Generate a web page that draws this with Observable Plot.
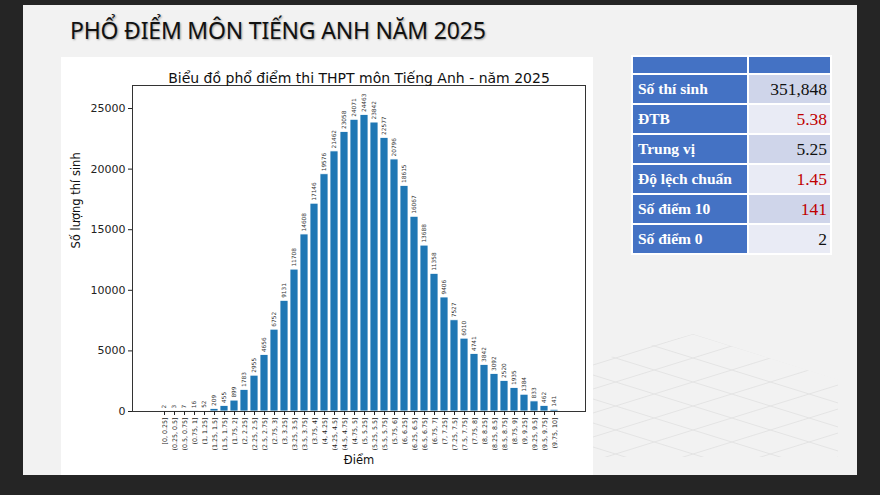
<!DOCTYPE html>
<html>
<head>
<meta charset="utf-8">
<script src="https://cdn.jsdelivr.net/npm/d3@7"></script>
<script src="https://cdn.jsdelivr.net/npm/@observablehq/plot@0.6"></script>
<style>
html, body { margin: 0; padding: 0; width: 880px; height: 495px; overflow: hidden; background: #252525; }
#slide { position: absolute; left: 23px; top: 5px; width: 834px; height: 470px; background: #f2f2f2; }
#deco { position: absolute; left: 0; top: 0; }
#title { position: absolute; left: 70px; top: 14px; font-family: "Noto Sans", sans-serif; font-size: 23px; color: #111;
  letter-spacing: -0.2px; text-shadow: 1px 1px 2px rgba(0,0,0,0.35); white-space: nowrap; }
#chartbox { position: absolute; left: 61px; top: 57px; width: 532px; height: 418px; background: #fff; }
#stats { position: absolute; left: 631px; top: 55px; border-collapse: separate; border-spacing: 2px; background: #fff; }
#stats td { padding: 0 5px; font-family: "Liberation Serif", "Times New Roman", serif; height: 28px; }
#stats td.k { width: 104px; background: #4472c4; color: #fff; font-weight: bold; font-size: 15.5px; }
#stats td.v { width: 73px; text-align: right; font-size: 17.5px; color: #111; padding-right: 3px; }
#stats tr.h td { height: 16px; background: #4472c4; }
</style>
</head>
<body>
<div id="slide"></div>
<svg id="deco" width="880" height="495"></svg>
<div id="title">PHỔ ĐIỂM MÔN TIẾNG ANH NĂM 2025</div>
<div id="chartbox"></div>
<table id="stats"></table>
<script>
// ---- data ----
const bins = ["[0, 0.25]","(0.25, 0.5]","(0.5, 0.75]","(0.75, 1]","(1, 1.25]","(1.25, 1.5]","(1.5, 1.75]","(1.75, 2]",
  "(2, 2.25]","(2.25, 2.5]","(2.5, 2.75]","(2.75, 3]","(3, 3.25]","(3.25, 3.5]","(3.5, 3.75]","(3.75, 4]",
  "(4, 4.25]","(4.25, 4.5]","(4.5, 4.75]","(4.75, 5]","(5, 5.25]","(5.25, 5.5]","(5.5, 5.75]","(5.75, 6]",
  "(6, 6.25]","(6.25, 6.5]","(6.5, 6.75]","(6.75, 7]","(7, 7.25]","(7.25, 7.5]","(7.5, 7.75]","(7.75, 8]",
  "(8, 8.25]","(8.25, 8.5]","(8.5, 8.75]","(8.75, 9]","(9, 9.25]","(9.25, 9.5]","(9.5, 9.75]","(9.75, 10]"];
const counts = [2,3,7,16,52,209,455,899,1783,2955,4656,6752,9131,11708,14608,17146,
  19576,21462,23058,24071,24463,23842,22577,20796,18615,16067,13688,11358,9406,7527,6010,4741,
  3842,3092,2520,1935,1384,833,462,141];
const yTicks = [0,5000,10000,15000,20000,25000];
const slideTitle = "PHỔ ĐIỂM MÔN TIẾNG ANH NĂM 2025";
const chartTitle = "Biểu đồ phổ điểm thi THPT môn Tiếng Anh - năm 2025";
const xLabel = "Điểm";
const yLabel = "Số lượng thí sinh";
const statLabels = ["Số thí sinh","ĐTB","Trung vị","Độ lệch chuẩn","Số điểm 10","Số điểm 0"];
const statValues = ["351,848","5.38","5.25","1.45","141","2"];

// ---- styles ----
const redStats = new Set(["ĐTB","Độ lệch chuẩn","Số điểm 10"]);
const rowBg = ["#cfd5ea","#e9ebf5"];

const data = bins.map((b, i) => ({bin: b, count: counts[i]}));

const chart = Plot.plot({
  width: 532, height: 418,
  marginLeft: 71, marginTop: 28, marginRight: 8, marginBottom: 64,
  style: {fontFamily: "DejaVu Sans", background: "transparent", color: "#222"},
  x: {domain: bins, paddingInner: 0.2, paddingOuter: 1.99},
  y: {domain: [0, 26900]},
  marks: [
    Plot.barY(data, {x: "bin", y: "count", fill: "#1f77b4", stroke: "#fff", strokeWidth: 0.8}),
    Plot.text(data, {x: "bin", y: "count", text: d => String(d.count), rotate: -90, textAnchor: "start",
      dy: -3, fontSize: 5.8, fill: "#333"}),
    Plot.frame({stroke: "#333", strokeWidth: 1}),
    Plot.axisY({ticks: yTicks, tickFormat: d => String(d), label: null, fontSize: 11, tickSize: 4, tickPadding: 3}),
    Plot.axisX({label: null, fontSize: 6.3, tickRotate: -90, tickSize: 4, tickPadding: 2}),
    Plot.text([chartTitle], {frameAnchor: "top", dy: -12, fontSize: 14, fill: "#111"}),
    Plot.text([xLabel], {frameAnchor: "bottom", dy: 52, fontSize: 11.5, fill: "#111"}),
    Plot.text([yLabel], {frameAnchor: "left", dx: -56, rotate: -90, fontSize: 11.5, fill: "#111"})
  ]
});
document.getElementById("chartbox").appendChild(chart);
document.getElementById("title").textContent = slideTitle;

// table
const tbl = d3.select("#stats");
const hr = tbl.append("tr").attr("class", "h");
hr.append("td").attr("class", "k"); hr.append("td").attr("class", "v");
statLabels.forEach((lab, i) => {
  const tr = tbl.append("tr");
  tr.append("td").attr("class", "k").text(lab);
  tr.append("td").attr("class", "v").style("background", rowBg[i % 2])
    .style("color", redStats.has(lab) ? "#c00000" : "#111").text(statValues[i]);
});

// decorative perspective grid (background ornament)
const deco = d3.select("#deco");
const clip = deco.append("clipPath").attr("id", "gclip");
clip.append("polygon").attr("points", "693,334 838,380 838,457 593,457 593,362");
const g = deco.append("g").attr("clip-path", "url(#gclip)").attr("stroke", "#e4e4e4").attr("stroke-width", 1);
for (let k = -20; k < 20; k++) {
  const c = 334 + k * 24;
  g.append("line").attr("x1", 560).attr("y1", c - 0.31 * (693 - 560)).attr("x2", 860).attr("y2", c + 0.31 * (860 - 693));
  g.append("line").attr("x1", 560).attr("y1", c + 0.31 * (693 - 560)).attr("x2", 860).attr("y2", c - 0.31 * (860 - 693));
}
</script>
</body>
</html>
